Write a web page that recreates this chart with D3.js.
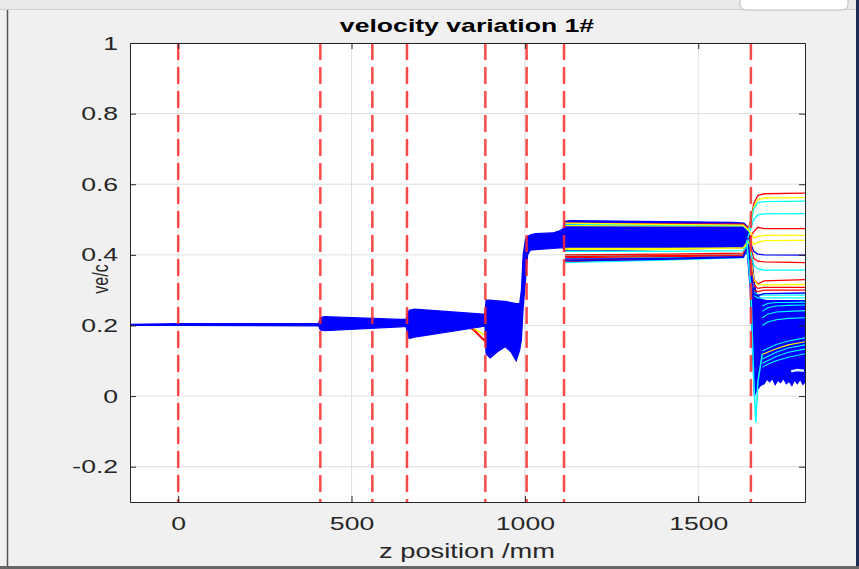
<!DOCTYPE html>
<html>
<head>
<meta charset="utf-8">
<script src="https://cdn.jsdelivr.net/npm/d3@7"></script>
<style>
  body { margin: 0; background: #f0f0f0; }
  svg { display: block; font-family: "Liberation Sans", Arial, Helvetica, sans-serif; }
</style>
</head>
<body>
<svg id="chart" width="859" height="569"></svg>
<script>
// ---- data ----
var xTicks = [0, 500, 1000, 1500];
var yTicks = [-0.2, 0, 0.2, 0.4, 0.6, 0.8, 1];

// red dashed markers (z position, mm)
var markerZ = [0, 410, 560, 660, 886, 1005, 1113, 1652];

// envelope of the dense blue bundle
var bundleZ      = [-139, 0, 405, 410, 422, 640, 657, 666, 682, 880, 885, 888, 900, 920, 943, 960, 975, 985, 990, 995, 1002, 1008, 1015, 1030, 1080, 1100, 1110, 1116, 1130, 1600, 1632, 1642, 1650, 1656, 1662, 1668, 1680, 1690, 1698, 1706, 1714, 1722, 1730, 1738, 1746, 1754, 1762, 1770, 1778, 1786, 1794, 1802, 1808];
var bundleTop    = [0.203, 0.205, 0.206, 0.222, 0.225, 0.217, 0.217, 0.243, 0.246, 0.232, 0.232, 0.272, 0.272, 0.270, 0.268, 0.265, 0.262, 0.262, 0.30, 0.40, 0.445, 0.452, 0.456, 0.46, 0.462, 0.468, 0.474, 0.495, 0.497, 0.492, 0.49, 0.48, 0.44, 0.38, 0.32, 0.29, 0.275, 0.272, 0.27, 0.27, 0.27, 0.27, 0.27, 0.27, 0.27, 0.27, 0.27, 0.27, 0.27, 0.27, 0.27, 0.27, 0.27];
var bundleBottom = [0.200, 0.200, 0.199, 0.187, 0.185, 0.196, 0.197, 0.163, 0.167, 0.197, 0.197, 0.120, 0.108, 0.125, 0.140, 0.125, 0.100, 0.130, 0.160, 0.25, 0.33, 0.40, 0.413, 0.415, 0.418, 0.42, 0.42, 0.41, 0.41, 0.42, 0.42, 0.40, 0.30, 0.14, 0.0, 0.015, 0.03, 0.035, 0.048, 0.04, 0.05, 0.032, 0.045, 0.038, 0.05, 0.035, 0.042, 0.03, 0.045, 0.035, 0.048, 0.033, 0.04];

// stray lines under the bundle just before 886 mm
var preZ = [820, 850, 875, 886];
var preRed = [0.2, 0.19, 0.165, 0.155];
var preYellow = [0.2, 0.193, 0.178, 0.172];

// individual trajectories from 1116 mm to the end
var exitZ = [1116, 1400, 1630, 1645, 1652, 1660, 1672, 1690, 1808];
var exitLines = [
  [0.490, 0.488, 0.487, 0.475, 0.500, 0.545, 0.568, 0.573, 0.575],
  [0.483, 0.482, 0.482, 0.470, 0.495, 0.535, 0.556, 0.561, 0.562],
  [0.487, 0.484, 0.483, 0.468, 0.490, 0.530, 0.548, 0.551, 0.552],
  [0.400, 0.398, 0.400, 0.455, 0.475, 0.500, 0.513, 0.516, 0.517],
  [0.385, 0.390, 0.395, 0.440, 0.455, 0.465, 0.478, 0.474, 0.474],
  [0.490, 0.486, 0.484, 0.470, 0.460, 0.448, 0.452, 0.455, 0.455],
  [0.415, 0.415, 0.420, 0.440, 0.440, 0.430, 0.435, 0.440, 0.441],
  [0.445, 0.445, 0.445, 0.445, 0.430, 0.410, 0.402, 0.400, 0.399],
  [0.400, 0.402, 0.405, 0.440, 0.420, 0.390, 0.382, 0.380, 0.378],
  [0.390, 0.393, 0.397, 0.440, 0.410, 0.370, 0.360, 0.357, 0.357],
  [0.395, 0.398, 0.400, 0.430, 0.380, 0.330, 0.318, 0.326, 0.330],
  [0.418, 0.418, 0.420, 0.435, 0.390, 0.330, 0.315, 0.315, 0.316],
  [0.392, 0.395, 0.398, 0.420, 0.370, 0.315, 0.305, 0.308, 0.308],
  [0.380, 0.388, 0.395, 0.420, 0.360, 0.300, 0.296, 0.300, 0.300],
  [0.410, 0.410, 0.412, 0.430, 0.360, 0.295, 0.286, 0.286, 0.286],
  [0.378, 0.385, 0.392, 0.420, 0.350, 0.285, 0.278, 0.278, 0.278],
  [0.388, 0.390, 0.395, 0.430, 0.360, 0.290, 0.285, 0.290, 0.292],
  [0.383, 0.387, 0.393, 0.425, 0.350, 0.280, 0.272, 0.270, 0.270]
];
var exitColors = ["#ff0000", "#ffff00", "#00ffff", "#00ffff", "#ff0000", "#ffff00", "#ffff00", "#0000ff", "#ff0000",
                  "#00ffff", "#ff0000", "#ffff00", "#ff0000", "#ff0000", "#00ffff", "#00ffff", "#0000ff", "#0000ff"];

// coloured lines inside the dense part after 1652 mm
var denseZ = [1685, 1700, 1725, 1760, 1808];
var denseLines = [
  [0.255, 0.262, 0.265, 0.265, 0.266],
  [0.240, 0.250, 0.255, 0.257, 0.258],
  [0.222, 0.232, 0.238, 0.240, 0.242],
  [0.200, 0.210, 0.216, 0.220, 0.222],
  [0.128, 0.135, 0.146, 0.156, 0.165],
  [0.118, 0.124, 0.134, 0.145, 0.154],
  [0.105, 0.112, 0.124, 0.136, 0.145],
  [0.093, 0.100, 0.112, 0.124, 0.133],
  [0.082, 0.090, 0.100, 0.110, 0.120]
];
var denseColors = ["#00ffff", "#00ffff", "#00ffff", "#00ffff", "#00ffff", "#ffff00", "#00ffff", "#00ffff", "#00ffff"];

// pale gap inside the dense part
var gapZ = [1768, 1785, 1805];
var gapV = [0.070, 0.074, 0.072];

// the one trajectory that dips below zero
var spikeZ = [1640, 1652, 1660, 1666, 1672, 1685];
var spikeV = [0.44, 0.30, 0.05, -0.075, 0.04, 0.12];

// ---- drawing ----
var svg = d3.select("#chart");
var padL = 130, padR = 805, padT = 43, padB = 502;
var sx = 1.4; // the screenshot is stretched sideways

var x = d3.scaleLinear().domain([-139, 1808]).range([padL, padR]);
var y = d3.scaleLinear().domain([-0.3, 1]).range([padB, padT]);

// window chrome bits around the figure
svg.append("rect").attr("x", 0).attr("y", 0).attr("width", 859).attr("height", 569).attr("fill", "#f0f0f0");
svg.append("rect").attr("x", 0).attr("y", 0).attr("width", 859).attr("height", 9).attr("fill", "#e9e9e9");
svg.append("line").attr("x1", 0).attr("x2", 859).attr("y1", 9.5).attr("y2", 9.5).attr("stroke", "#d0d0d0");
svg.append("line").attr("x1", 7.5).attr("x2", 7.5).attr("y1", 10).attr("y2", 569).attr("stroke", "#555").attr("stroke-width", 1.5);
svg.append("rect").attr("x", 740).attr("y", -8).attr("width", 108).attr("height", 18).attr("rx", 6)
  .attr("fill", "#fff").attr("stroke", "#bbb");
svg.append("rect").attr("x", 856).attr("y", 0).attr("width", 3).attr("height", 569).attr("fill", "#1c2c55");
svg.append("rect").attr("x", 0).attr("y", 566).attr("width", 859).attr("height", 3).attr("fill", "#666");

// plot area
svg.append("rect").attr("x", padL).attr("y", padT).attr("width", padR - padL).attr("height", padB - padT).attr("fill", "#fff");

// grid
svg.append("g").selectAll("line").data(xTicks).enter().append("line")
  .attr("x1", function(d) { return x(d); }).attr("x2", function(d) { return x(d); })
  .attr("y1", padT).attr("y2", padB)
  .attr("stroke", "#dfdfdf").attr("stroke-width", 1);
svg.append("g").selectAll("line").data(yTicks).enter().append("line")
  .attr("x1", padL).attr("x2", padR)
  .attr("y1", function(d) { return y(d); }).attr("y2", function(d) { return y(d); })
  .attr("stroke", "#dfdfdf").attr("stroke-width", 1);

var plot = svg.append("g");
plot.append("clipPath").attr("id", "clip").append("rect")
  .attr("x", padL).attr("y", padT).attr("width", padR - padL).attr("height", padB - padT);
plot.attr("clip-path", "url(#clip)");

var line = d3.line().x(function(d) { return x(d[0]); }).y(function(d) { return y(d[1]); });
function pairs(zs, vs) { return zs.map(function(z, i) { return [z, vs[i]]; }); }

plot.append("path").attr("d", line(pairs(preZ, preRed))).attr("fill", "none").attr("stroke", "#ff0000").attr("stroke-width", 2);
plot.append("path").attr("d", line(pairs(preZ, preYellow))).attr("fill", "none").attr("stroke", "#ffff00").attr("stroke-width", 1.5);

var area = d3.area()
  .x(function(d, i) { return x(bundleZ[i]); })
  .y0(function(d, i) { return y(bundleBottom[i]); })
  .y1(function(d, i) { return y(bundleTop[i]); });
plot.append("path").attr("d", area(bundleZ)).attr("fill", "#0000ff").attr("stroke", "#0000ff").attr("stroke-width", 1.2);

plot.selectAll(".exit").data(exitLines).enter().append("path")
  .attr("class", "exit")
  .attr("d", function(d) { return line(pairs(exitZ, d)); })
  .attr("fill", "none")
  .attr("stroke", function(d, i) { return exitColors[i]; })
  .attr("stroke-width", 1.3);

plot.selectAll(".dense").data(denseLines).enter().append("path")
  .attr("class", "dense")
  .attr("d", function(d) { return line(pairs(denseZ, d)); })
  .attr("fill", "none")
  .attr("stroke", function(d, i) { return denseColors[i]; })
  .attr("stroke-width", 1.1);

plot.append("path").attr("d", line(pairs(gapZ, gapV))).attr("fill", "none").attr("stroke", "#d8ecff").attr("stroke-width", 2.5);

plot.append("path").attr("d", line(pairs(spikeZ, spikeV))).attr("fill", "none").attr("stroke", "#00ffff").attr("stroke-width", 1.5);

// red dashed markers
svg.append("g").selectAll("line").data(markerZ).enter().append("line")
  .attr("x1", function(d) { return x(d); }).attr("x2", function(d) { return x(d); })
  .attr("y1", padT).attr("y2", padB)
  .attr("stroke", "#ff2a2a").attr("stroke-opacity", 0.85)
  .attr("stroke-width", 2.5).attr("stroke-dasharray", "17,7");

// axes (ticks point inward, box on)
var ax = "#262626";
function styleAxis(g) {
  g.select(".domain").attr("stroke", ax);
  g.selectAll(".tick line").attr("stroke", ax);
  g.selectAll(".tick text").attr("fill", ax).attr("font-size", 19).attr("font-family", null)
    .attr("transform", "scale(" + sx + ",1)");
}
svg.append("g").attr("transform", "translate(0," + padB + ")")
  .call(d3.axisBottom(x).tickValues(xTicks).tickSize(-6).tickSizeOuter(0).tickPadding(15).tickFormat(function(d) { return String(d); }))
  .call(styleAxis);
svg.append("g").attr("transform", "translate(0," + padT + ")")
  .call(d3.axisTop(x).tickValues(xTicks).tickSize(-6).tickSizeOuter(0).tickFormat(""))
  .call(styleAxis);
svg.append("g").attr("transform", "translate(" + padL + ",0)")
  .call(d3.axisLeft(y).tickValues(yTicks).tickSize(-6).tickSizeOuter(0).tickPadding(8.5).tickFormat(function(d) { return String(d); }))
  .call(styleAxis);
svg.append("g").attr("transform", "translate(" + padR + ",0)")
  .call(d3.axisRight(y).tickValues(yTicks).tickSize(-6).tickSizeOuter(0).tickFormat(""))
  .call(styleAxis);

// titles
svg.append("text").attr("transform", "translate(467,32) scale(" + sx + ",1)")
  .attr("text-anchor", "middle").attr("font-size", 19).attr("font-weight", "bold").attr("fill", "#000")
  .text("velocity variation 1#");
svg.append("text").attr("transform", "translate(467,558) scale(" + sx + ",1)")
  .attr("text-anchor", "middle").attr("font-size", 19.5).attr("fill", ax)
  .text("z position /mm");
svg.append("text").attr("transform", "translate(108,279) scale(" + sx + ",1) rotate(-90)")
  .attr("text-anchor", "middle").attr("font-size", 16).attr("fill", ax)
  .text("ve/c");
</script>
</body>
</html>
